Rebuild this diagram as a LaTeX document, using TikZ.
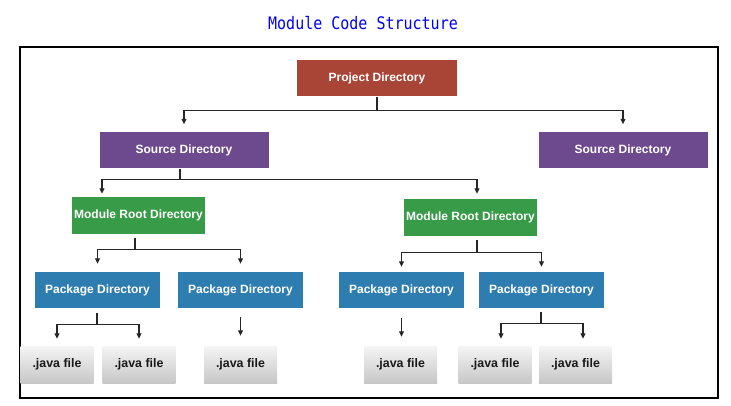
\documentclass[tikz,border=0pt]{standalone}
\usepackage{fontspec}
\setmainfont{Liberation Sans}
\newfontfamily\titlefont{DejaVu Sans Mono}
\usetikzlibrary{arrows.meta, calc, positioning}

\definecolor{projred}{HTML}{A94536}
\definecolor{srcpurple}{HTML}{6D4A8D}
\definecolor{modgreen}{HTML}{389B48}
\definecolor{pkgblue}{HTML}{2E7DB1}

\begin{document}
\begin{tikzpicture}[
    x=1pt, y=-1pt,
    box/.style={rectangle, inner sep=0pt, text=white, minimum height=36pt,
        font=\fontsize{12}{14}\selectfont\bfseries},
    proj/.style={box, fill=projred, minimum width=160pt},
    src/.style={box, fill=srcpurple, minimum width=169pt},
    modbox/.style={box, fill=modgreen, minimum width=133pt, minimum height=37pt},
    pkg/.style={box, fill=pkgblue, minimum width=125pt},
    jfile/.style={rectangle, inner sep=0pt, minimum width=73pt, minimum height=37pt,
        top color=black!4, bottom color=black!22, text=black!90,
        font=\fontsize{12.4}{14}\selectfont\bfseries},
    link/.style={line width=1.3pt, draw=black!85},
    arr/.style={link, -{Triangle[length=5.5pt, width=5pt]}}
]
\useasboundingbox (0,0) rectangle (731,406);

% Titel und Rahmen
\node[font=\titlefont\fontsize{15}{18}\selectfont, text=blue] (title) at (363,23)
    {\scalebox{1}[1.15]{Module Code Structure}};
\draw[line width=1.2pt] (20,47) rectangle (718,398);

% Verzeichnisse
\node[proj] (project) at (377,78.5) {Project Directory};
\node[src] (srcL) at (184,150.5) {Source Directory};
\node[src] (srcR) at (623,150.5) {Source Directory};
\node[modbox] (modL) at (138.5,215.5) {Module Root Directory};
\node[modbox] (modR) at (470.5,217.5) {Module Root Directory};
\node[pkg] (pkgA) at (97.5,290) {Package Directory};
\node[pkg] (pkgB) at (240.5,290) {Package Directory};
\node[pkg] (pkgC) at (401.5,290) {Package Directory};
\node[pkg] (pkgD) at (541.5,290) {Package Directory};

% Dateien
\node[jfile] (javaA) at (57,364.5) {.java file};
\node[jfile] (javaB) at (139,364.5) {.java file};
\node[jfile] (javaC) at (240.5,364.5) {.java file};
\node[jfile] (javaD) at (400.5,364.5) {.java file};
\node[jfile] (javaE) at (495,364.5) {.java file};
\node[jfile] (javaF) at (575.5,364.5) {.java file};

% Verbindungen vom Projekt
\draw[link] (project.south) -- ++(0,13.5) coordinate (barP);
\draw[arr, shorten >=8pt] (barP) -| (srcL.north);
\draw[arr, shorten >=8pt] (barP) -| (srcR.north);

% Verbindungen von der Quelle
\draw[link] ($(srcL.south)+(-4,0)$) -- ++(0,11) coordinate (barS);
\draw[arr, shorten >=3pt] (barS) -| ($(modL.north)+(-36.5,0)$);
\draw[arr, shorten >=5pt] (barS) -| ($(modR.north)+(6.5,0)$);

% Verbindungen von den Modulen
\draw[link, shorten <=4pt] ($(modL.south)+(-3.5,0)$) -- ++(0,15) coordinate (barML);
\draw[arr, shorten >=8pt] (barML) -| (pkgA.north);
\draw[arr, shorten >=8pt] (barML) -| (pkgB.north);
\draw[link, shorten <=4pt] ($(modR.south)+(6.5,0)$) -- ++(0,16) coordinate (barMR);
\draw[arr, shorten >=5pt] (barMR) -| (pkgC.north);
\draw[arr, shorten >=5pt] (barMR) -| (pkgD.north);

% Verbindungen von den Paketen
\draw[link, shorten <=5pt] ($(pkgA.south)+(-0.5,0)$) -- ++(0,16) coordinate (barPA);
\draw[arr, shorten >=7pt] (barPA) -| (javaA.north);
\draw[arr, shorten >=7pt] (barPA) -| (javaB.north);
\draw[arr, shorten <=9pt, shorten >=10pt] (pkgB.south) -- (javaC.north);
\draw[arr, shorten <=10pt, shorten >=9pt] (pkgC.south) -- (pkgC.south |- javaD.north);
\draw[link, shorten <=4pt] ($(pkgD.south)+(-0.5,0)$) -- ++(0,15) coordinate (barPD);
\draw[arr, shorten >=7pt] (barPD) -| ($(javaE.north)+(6,0)$);
\draw[arr, shorten >=7pt] (barPD) -| ($(javaF.north)+(7.5,0)$);

\end{tikzpicture}
\end{document}
